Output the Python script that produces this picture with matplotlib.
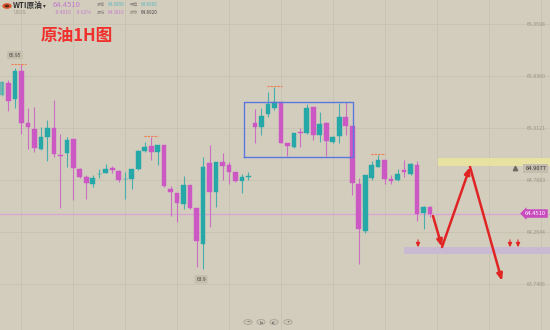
import numpy as np
import matplotlib
matplotlib.use("Agg")
import matplotlib.pyplot as plt
from matplotlib.patches import FancyBboxPatch, Circle, FancyArrowPatch
import matplotlib.transforms as mtransforms

plt.rcParams['font.family'] = ['Noto Sans CJK SC', 'DejaVu Sans']

# ---------------- data ----------------
opens = [65.645, 65.762, 65.608, 65.887, 65.366, 65.302, 65.101, 65.225, 65.316, 65.044,
         65.057, 65.198, 64.900, 64.816, 64.749, 64.846, 64.863, 64.910, 64.883, 64.794,
         64.796, 64.900, 65.081, 65.135, 65.067, 65.141, 64.698, 64.655, 64.547, 64.738,
         64.503, 64.144, 64.957, 64.671, 64.973, 64.943, 64.866, 64.782, 64.824, 65.359,
         65.326, 65.450, 65.511, 65.571, 65.158, 65.125, 65.267, 65.259, 65.527, 65.242,
         65.359, 65.168, 65.232, 65.427, 65.336, 64.749, 64.279, 64.812, 64.923, 64.990,
         64.802, 64.789, 64.890, 64.849, 64.940, 64.453, 64.520]
closes = [65.779, 65.588, 65.887, 65.366, 65.319, 65.108, 65.225, 65.309, 65.047, 65.034,
          65.192, 64.906, 64.816, 64.755, 64.812, 64.850, 64.903, 64.890, 64.789, 64.798,
          64.900, 65.084, 65.125, 65.067, 65.141, 64.728, 64.665, 64.554, 64.738, 64.507,
          64.178, 64.920, 64.671, 64.967, 64.930, 64.866, 64.782, 64.816, 64.828, 65.319,
          65.437, 65.551, 65.571, 65.165, 65.131, 65.259, 65.263, 65.517, 65.242, 65.349,
          65.181, 65.225, 65.427, 65.333, 64.755, 64.292, 64.839, 64.937, 64.990, 64.802,
          64.782, 64.846, 64.870, 64.947, 64.446, 64.520, 64.451]
highs = [65.790, 65.796, 65.913, 65.957, 65.511, 65.527, 65.326, 65.393, 65.594, 65.249,
         65.225, 65.198, 64.906, 64.839, 64.839, 64.903, 64.947, 64.930, 64.890, 64.873,
         64.903, 65.091, 65.175, 65.219, 65.141, 65.141, 64.728, 64.655, 64.829, 64.738,
         64.503, 65.024, 65.141, 64.973, 65.057, 64.973, 64.873, 64.849, 64.873, 65.500,
         65.511, 65.678, 65.722, 65.571, 65.158, 65.265, 65.309, 65.554, 65.527, 65.477,
         65.376, 65.232, 65.561, 65.571, 65.336, 64.806, 64.839, 64.980, 65.041, 64.990,
         64.839, 64.896, 64.990, 64.957, 64.980, 64.527, 64.527]
lows = [65.630, 65.487, 65.511, 65.249, 65.101, 65.067, 65.091, 64.983, 65.024, 64.503,
        64.923, 64.587, 64.806, 64.594, 64.722, 64.806, 64.856, 64.856, 64.772, 64.594,
        64.695, 64.890, 65.074, 64.990, 64.940, 64.722, 64.430, 64.369, 64.493, 64.498,
        63.916, 63.889, 64.312, 64.520, 64.789, 64.749, 64.772, 64.661, 64.789, 65.158,
        65.242, 65.427, 65.494, 65.158, 65.031, 65.108, 65.125, 65.252, 65.192, 65.175,
        65.031, 65.158, 65.158, 65.242, 64.638, 63.940, 64.258, 64.789, 64.916, 64.745,
        64.745, 64.779, 64.822, 64.839, 64.379, 64.292, 64.420]

price_ticks = [66.3598, 65.8360, 65.3121, 64.7883, 64.2644, 63.7406]
tick_labels = ["66.3598", "65.8360", "65.3121", "64.7883", "64.2644", "63.7406"]
last_price = 64.4510
alert_price = 64.9077
hi_label, lo_label = "65.95", "63.9"
hi_idx, lo_idx = 3, 31
marked_highs = [23, 42, 58]

# analysis drawings (index, price)
box = (37.36, 54.08, 65.024, 65.577)
yellow_band = (67.2, 64.930, 65.010)
purple_band = (62.0, 64.044, 64.114)
path_pts = [(66.46, 64.426), (67.85, 64.114), (72.17, 64.920), (77.10, 63.772)]
small_arrows = [64.15, 78.33, 79.57]

header_name = "WTI原油"
header_sym = "USOIL"
header_chg = ["-0.4010", "-0.62%"]
header_stats = [("最高", "64.9850"), ("开盘", "64.8900"), ("最低", "64.3810"), ("昨收", "64.8920")]
title = "原油1H图"

# ---------------- style ----------------
BG = "#d3cdbe"
GRID = "#c8c2b3"
UP = "#27a8a8"
DN = "#cb58c3"

W, H = 550, 330
fig = plt.figure(figsize=(5.5, 3.3), dpi=100, facecolor=BG)
ax = fig.add_axes([0, 0, 1, 1], facecolor=BG)
ax.set_xlim(-0.31, 84.5)
ax.set_ylim(63.2782, 66.6015)
for s in ax.spines.values():
    s.set_visible(False)
ax.set_xticks([])
ax.set_yticks([])

def fx(x):
    return x / W
def fy(y):
    return 1 - y / H

# grid
for v in price_ticks:
    ax.axhline(v, color=GRID, lw=0.6, zorder=0)
for gx in np.arange(2.88, 85, 8.02):
    ax.axvline(gx, color=GRID, lw=0.6, zorder=0)

# candles
idx = np.arange(len(opens))
for i in idx:
    o, c, h, l = opens[i], closes[i], highs[i], lows[i]
    col = UP if c >= o else DN
    a = 0.55 if i == 0 else 1.0
    ax.vlines(i, l, h, color=col, lw=0.8, alpha=a * 0.8, zorder=2)
    bh = max(abs(c - o), 0.008)
    ax.bar(i, bh, bottom=min(o, c), width=0.72, color=col, edgecolor=col,
           lw=0.3, alpha=a, zorder=3)

# current price line
ax.axhline(last_price, color="#d9a6d2", lw=1.0, zorder=1)

# high/low labels
ax.hlines(highs[hi_idx], hi_idx - 1.65, hi_idx + 0.65, color="#ef7a4a", lw=0.8,
          linestyles=(0, (2, 1)), zorder=4)
ax.text(hi_idx - 1.0, highs[hi_idx] + 0.09, hi_label, fontsize=3.6, color="#444",
        ha="center", va="center", zorder=5,
        bbox=dict(boxstyle="round,pad=0.35", fc="#c6bfae", ec="none"))
ax.text(lo_idx - 0.3, lows[lo_idx] - 0.1, lo_label, fontsize=3.6, color="#444",
        ha="center", va="center", zorder=5,
        bbox=dict(boxstyle="round,pad=0.35", fc="#c6bfae", ec="none"))
for m in marked_highs:
    ax.hlines(highs[m] + 0.01, m - 1.1, m + 1.1, color="#ef7a4a", lw=0.8,
              linestyles=(0, (2, 1)), zorder=4)

# blue box
x0, x1, y0, y1 = box
ax.plot([x0, x1, x1, x0, x0], [y0, y0, y1, y1, y0], color="#5b77dd", lw=1.0, zorder=6)

# bands
for (bx, b0, b1), col in [(yellow_band, "#e7e2a2"), (purple_band, "#c9b9d3")]:
    p = FancyBboxPatch((bx, b0), 90 - bx, b1 - b0,
                       boxstyle="round,pad=0,rounding_size=0.035",
                       mutation_aspect=1, fc=col, ec="none", zorder=1.5)
    ax.add_patch(p)

# red path arrows
RED = "#e02424"
for (a0, a1) in zip(path_pts[:-1], path_pts[1:]):
    arr = FancyArrowPatch(a0, a1, arrowstyle="-|>,head_length=4,head_width=1.6",
                          color=RED, lw=1.8, shrinkA=0, shrinkB=0, zorder=7)
    ax.add_patch(arr)
for sx in small_arrows:
    arr = FancyArrowPatch((sx, 64.186), (sx, 64.112),
                          arrowstyle="-|>,head_length=2.5,head_width=1.2",
                          color=RED, lw=0.8, shrinkA=0, shrinkB=0, zorder=7)
    ax.add_patch(arr)

# right axis labels
trans = mtransforms.blended_transform_factory(ax.transAxes, ax.transData)
for v, lab in zip(price_ticks, tick_labels):
    ax.text(fx(546), v, lab, transform=trans, fontsize=3.8, color="#9a958a",
            ha="right", va="center", zorder=8)

# alert label
ax.text(fx(546), alert_price, "64.9077", transform=trans, fontsize=4.2,
        color="#333", ha="right", va="center", zorder=9,
        bbox=dict(boxstyle="square,pad=0.35", fc="#c4bdad", ec="none"))
# small bell glyph drawn as a marker
ax.plot([fx(515)], [alert_price], marker="^", markersize=3.2, color="#6f6a60",
        transform=trans, zorder=10)

# current price tag
ax.text(fx(546), last_price, f"{last_price:.4f}", transform=trans, fontsize=4.2,
        color="white", ha="right", va="center", zorder=9,
        bbox=dict(boxstyle="larrow,pad=0.3", fc="#c94cbf", ec="none"))

# header
fig.patches.append(Circle((fx(7), fy(6)), 0.0085, transform=fig.transFigure,
                          fc="#d9532b", ec="none"))
fig.patches.append(Circle((fx(7), fy(6)), 0.004, transform=fig.transFigure,
                          fc="#5a2a1a", ec="none"))
fig.text(fx(13), fy(5.5), header_name, fontsize=5.5, fontweight="bold", color="#333",
         ha="left", va="center")
fig.text(fx(43), fy(5.5), "▾", fontsize=4, color="#333", ha="left", va="center",
         family=["DejaVu Sans"])
fig.text(fx(53), fy(5), f"{last_price:.4f}", fontsize=5.5, color="#c47acb",
         ha="left", va="center")
fig.text(fx(13), fy(12.5), header_sym, fontsize=3.3, color="#9a958a", ha="left", va="center")
fig.text(fx(55), fy(12.5), header_chg[0], fontsize=3.5, color="#c47acb", ha="left", va="center")
fig.text(fx(76), fy(12.5), header_chg[1], fontsize=3.5, color="#c47acb", ha="left", va="center")
stat_cols = ["#5bb5bd", "#5bb5bd", "#c47acb", "#444"]
for k, (lab, val) in enumerate(header_stats):
    row = k // 2
    col = k % 2
    yy = 5 if row == 0 else 12.5
    xl = 97 if col == 0 else 130
    fig.text(fx(xl), fy(yy), lab, fontsize=3.0, color="#8a867c", ha="left", va="center")
    fig.text(fx(xl + 11), fy(yy), val, fontsize=3.3, color=stat_cols[k],
             ha="left", va="center")

fig.text(fx(41), fy(35.5), title, fontsize=12, fontweight="bold", color="#f0302c",
         ha="left", va="center")

# bottom buttons
for bxp, sym in zip([248, 261, 274, 288], ["−", "|◂", "▸|", "+"]):
    fig.patches.append(Circle((fx(bxp), fy(322)), 0.0075, transform=fig.transFigure,
                              fc="#cdc7b8", ec="#a9a498", lw=0.6))
    fig.text(fx(bxp), fy(322), sym, fontsize=3.2, color="#555", ha="center", va="center",
             family=["DejaVu Sans"])

fig.savefig("out.png", dpi=100, facecolor=BG)
